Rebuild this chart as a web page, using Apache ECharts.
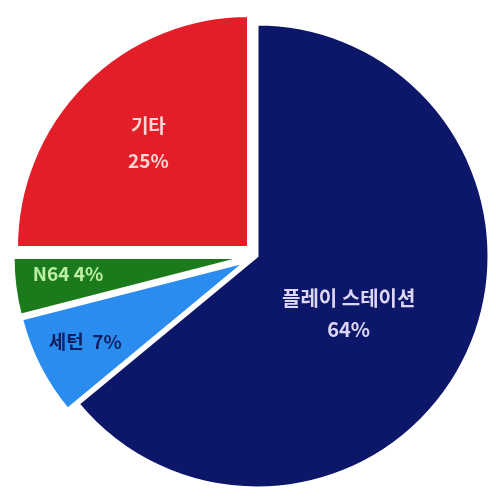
<!DOCTYPE html>
<html><head><meta charset="utf-8">
<script src="https://cdn.jsdelivr.net/npm/echarts@6/dist/echarts.min.js"></script>
<style>html,body{margin:0;padding:0;background:#fff}#c{width:496px;height:500px}</style>
</head><body><div id="c"></div>
<script>
const categories = ['플레이 스테이션', '세턴', 'N64', '기타'];
const shares = [64, 7, 4, 25];
const colors = ['#0c176a', '#2b8cf0', '#1b7a1c', '#e31e28'];
const labelColors = ['#ddd6f4', '#10205e', '#bdeea6', '#ffd6d6'];
const labelOffsets = [[-16, 7], [-55, 26], [-59, 1], [-16, -20]];
const labelFormats = ['{b}\n{c}%', '{b}  {c}%', '{b} {c}%', '{b}\n{c}%'];
const labelLineHeights = [31, 20, 20, 35];
const labelSizes = [20, 19, 19, 19];
const exploded = [false, true, true, true];

const chart = echarts.init(document.getElementById('c'));
chart.setOption({
  animation: false,
  series: [{
    type: 'pie',
    center: [257, 256],
    radius: [0, 232],
    startAngle: 90,
    clockwise: true,
    selectedMode: 'multiple',
    selectedOffset: 12,
    itemStyle: { borderColor: '#ffffff', borderWidth: 3 },
    label: {
      position: 'inside',
      fontFamily: 'Noto Sans CJK KR',
      fontWeight: 'bold'
    },
    labelLine: { show: false },
    emphasis: { disabled: true },
    data: categories.map((n, i) => {
      const lab = { color: labelColors[i], offset: labelOffsets[i], formatter: labelFormats[i], lineHeight: labelLineHeights[i], fontSize: labelSizes[i] };
      return {
        name: n,
        value: shares[i],
        selected: exploded[i],
        itemStyle: { color: colors[i] },
        label: lab,
        select: { label: lab, itemStyle: { color: colors[i] } }
      };
    })
  }]
});
</script></body></html>
